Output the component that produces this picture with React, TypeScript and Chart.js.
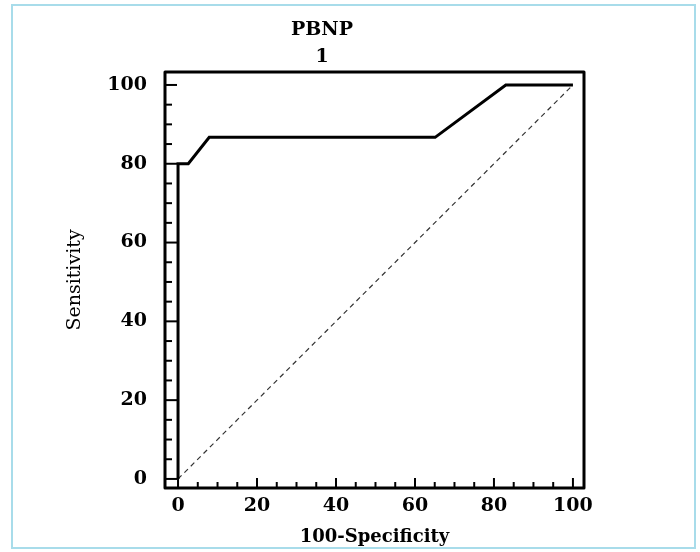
import { useEffect, useRef } from 'react';
import { Chart, registerables } from 'chart.js';

Chart.register(...registerables);

// ROC curve
const rocX = [0, 0, 2.6, 7.9, 65.1, 83.0, 100];
const rocY = [0, 80, 80, 86.7, 86.7, 100, 100];
// reference (chance) diagonal
const refX = [0, 100];
const refY = [0, 100];
// axis ticks
const tickValues = [0, 20, 40, 60, 80, 100];
const minorTickValues = [0, 5, 10, 15, 20, 25, 30, 35, 40, 45, 50, 55, 60, 65, 70, 75, 80, 85, 90, 95, 100];
const titleLines = ['PBNP', '1'];
const xTitle = '100-Specificity';
const yTitle = 'Sensitivity';

const SERIF = "'DejaVu Serif', 'Liberation Serif', serif";

const framePlugin = {
  id: 'rocFrame',
  afterDatasetsDraw(chart: any) {
    const { ctx, chartArea: a, scales } = chart;
    const xs = scales.x;
    const ys = scales.y;
    ctx.save();
    ctx.strokeStyle = '#000';
    ctx.lineWidth = 2;
    for (const v of minorTickValues) {
      const major = tickValues.includes(v);
      const px = xs.getPixelForValue(v);
      ctx.beginPath();
      ctx.moveTo(px, a.bottom);
      ctx.lineTo(px, a.bottom - (major ? 10 : 6));
      ctx.stroke();
      const py = ys.getPixelForValue(v);
      ctx.beginPath();
      ctx.moveTo(a.left, py);
      ctx.lineTo(a.left + (major ? 12 : 7), py);
      ctx.stroke();
    }
    ctx.lineWidth = 3;
    ctx.lineJoin = 'round';
    ctx.strokeRect(a.left, a.top, a.right - a.left, a.bottom - a.top);
    ctx.restore();
  },
};

export default function App() {
  const ref = useRef<HTMLCanvasElement | null>(null);

  useEffect(() => {
    if (!ref.current) return;
    const chart = new Chart(ref.current, {
      type: 'line',
      data: {
        datasets: [
          {
            data: rocX.map((x, i) => ({ x, y: rocY[i] })),
            borderColor: '#000',
            borderWidth: 3,
            pointRadius: 0,
            tension: 0,
            fill: false,
          },
          {
            data: refX.map((x, i) => ({ x, y: refY[i] })),
            borderColor: '#333',
            borderWidth: 1.2,
            borderDash: [5, 4],
            pointRadius: 0,
            tension: 0,
            fill: false,
          },
        ],
      },
      options: {
        animation: false,
        responsive: false,
        events: [],
        layout: { padding: { left: 60, right: 116, top: 0, bottom: 0 } },
        plugins: {
          legend: { display: false },
          tooltip: { enabled: false },
          title: {
            display: true,
            text: titleLines,
            color: '#000',
            font: { family: SERIF, size: 19, weight: 'bold', lineHeight: 1.42 },
            padding: { top: 17, bottom: 1 },
          },
        },
        scales: {
          x: {
            type: 'linear',
            min: -3.3,
            max: 102.8,
            afterBuildTicks: (s: any) => {
              s.ticks = tickValues.map((v) => ({ value: v }));
            },
            afterFit: (s: any) => {
              s.height = 64;
            },
            grid: { display: false, drawTicks: false },
            border: { display: false },
            ticks: {
              color: '#000',
              padding: 7,
              maxRotation: 0,
              font: { family: SERIF, size: 19, weight: 'bold' },
            },
            title: {
              display: true,
              text: xTitle,
              color: '#000',
              font: { family: SERIF, size: 18, weight: 'bold', lineHeight: 1.2 },
              padding: { top: 0, bottom: 4 },
            },
          },
          y: {
            type: 'linear',
            min: -2.3,
            max: 103.3,
            afterBuildTicks: (s: any) => {
              s.ticks = tickValues.map((v) => ({ value: v }));
            },
            afterFit: (s: any) => {
              s.width = 105;
            },
            grid: { display: false, drawTicks: false },
            border: { display: false },
            ticks: {
              color: '#000',
              padding: 18,
              font: { family: SERIF, size: 19, weight: 'bold' },
            },
            title: {
              display: true,
              text: yTitle,
              color: '#000',
              font: { family: SERIF, size: 19, weight: 'normal', lineHeight: 1.2 },
              padding: { top: 3.6, bottom: 0 },
            },
          },
        },
      },
      plugins: [framePlugin],
    });
    return () => chart.destroy();
  }, []);

  return (
    <div style={{ position: 'fixed', left: 0, top: 0, width: 700, height: 552, background: '#fff' }}>
      <canvas ref={ref} width={700} height={552} style={{ position: 'absolute', left: 0, top: 0, width: 700, height: 552 }} />
      <div
        style={{
          position: 'absolute',
          left: 11,
          top: 4,
          width: 685,
          height: 545,
          border: '2px solid #a8dcea',
          boxSizing: 'border-box',
          pointerEvents: 'none',
        }}
      />
    </div>
  );
}
